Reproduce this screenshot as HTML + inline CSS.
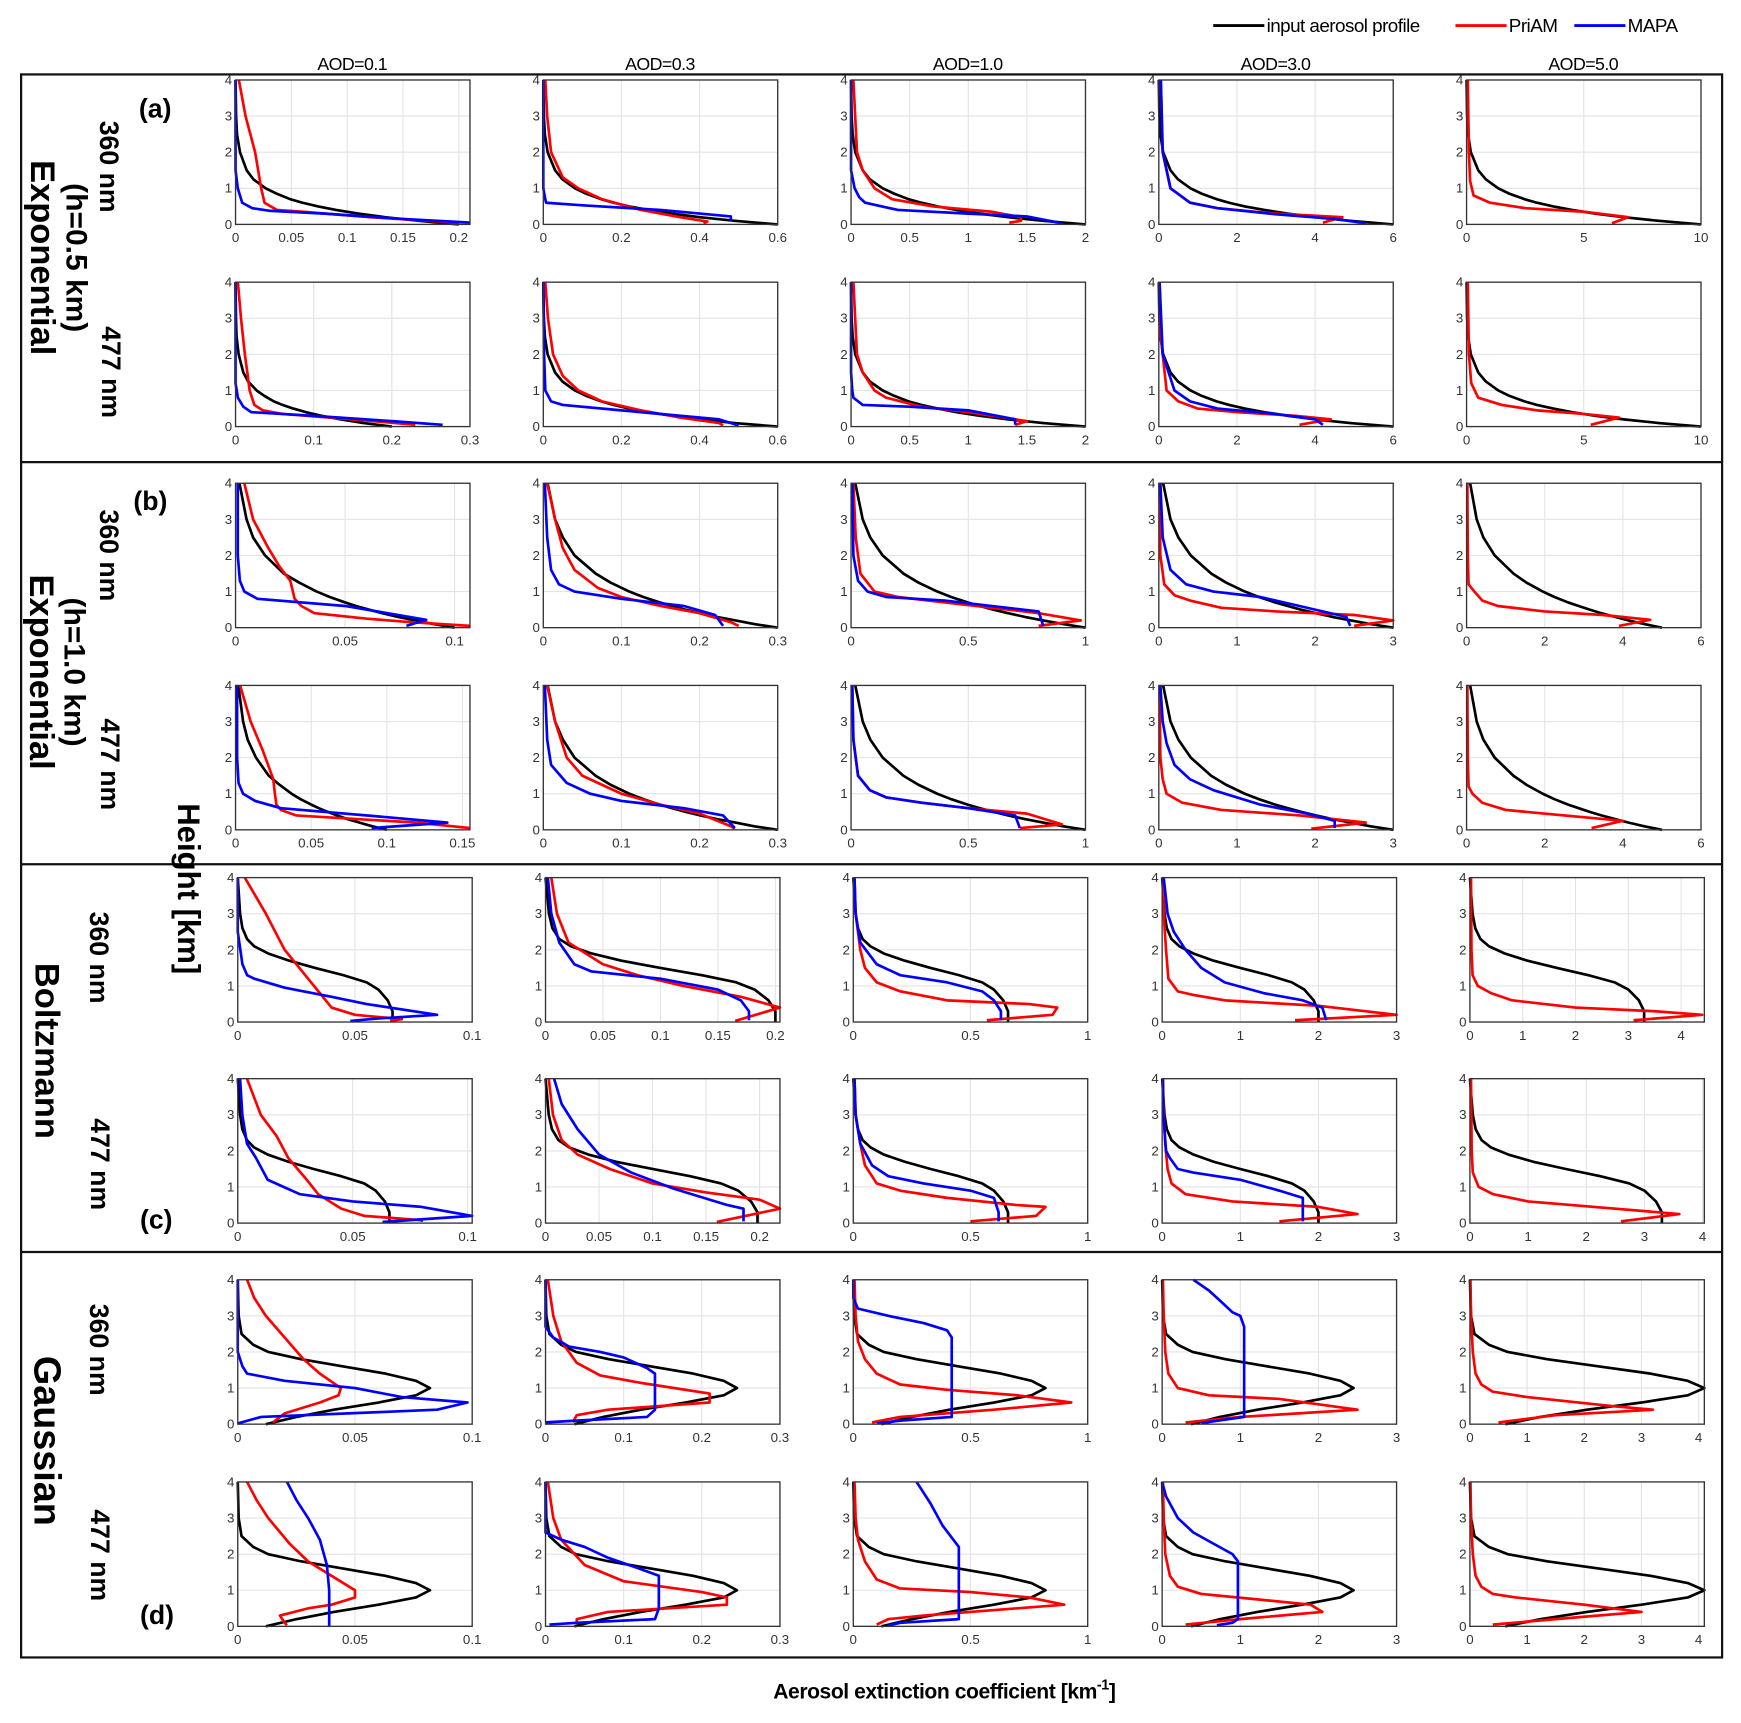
<!DOCTYPE html>
<html><head><meta charset="utf-8"><title>Aerosol profiles</title>
<style>
html,body{margin:0;padding:0;background:#fff;}
svg{display:block;}
text{font-family:"Liberation Sans",Arial,sans-serif;}
.tk{font-size:12px;fill:#333;}
</style></head>
<body>
<svg id="fig" width="1741" height="1723" viewBox="0 0 1567 1551" preserveAspectRatio="none" xmlns="http://www.w3.org/2000/svg">
  <g>
    <line x1="1092" y1="23" x2="1138" y2="23" stroke="#000" stroke-width="2.5"/>
    <text x="1140" y="29" font-size="17" letter-spacing="-0.5">input aerosol profile</text>
    <line x1="1310" y1="23" x2="1356" y2="23" stroke="#f00" stroke-width="2.5"/>
    <text x="1358" y="29" font-size="17" letter-spacing="-0.5">PriAM</text>
    <line x1="1417" y1="23" x2="1463" y2="23" stroke="#00f" stroke-width="2.5"/>
    <text x="1465" y="29" font-size="17" letter-spacing="-0.5">MAPA</text>
  </g>
  <g font-size="16" text-anchor="middle" letter-spacing="-0.5">
    <text x="317" y="63">AOD=0.1</text><text x="594" y="63">AOD=0.3</text><text x="871" y="63">AOD=1.0</text><text x="1148" y="63">AOD=3.0</text><text x="1425" y="63">AOD=5.0</text>
  </g>
  <g fill="none" stroke="#111" stroke-width="2">
    <rect x="19" y="67" width="1531" height="1425"/>
    <line x1="19" y1="416" x2="1550" y2="416"/>
    <line x1="19" y1="778" x2="1550" y2="778"/>
    <line x1="19" y1="1127" x2="1550" y2="1127"/>
  </g>
  <g font-weight="bold">
    <text x="125" y="106" font-size="24">(a)</text>
    <text x="120" y="459" font-size="24">(b)</text>
    <text x="126" y="1106" font-size="24">(c)</text>
    <text x="126" y="1462" font-size="24">(d)</text>
    <text transform="translate(28,232) rotate(90)" text-anchor="middle" font-size="31">Exponential</text>
    <text transform="translate(60,232) rotate(90)" text-anchor="middle" font-size="27" font-family="Liberation Serif, serif">(h=0.5 km)</text>
    <text transform="translate(90,150) rotate(90)" text-anchor="middle" font-size="24">360 nm</text>
    <text transform="translate(92,335) rotate(90)" text-anchor="middle" font-size="24">477 nm</text>
    <text transform="translate(27,605) rotate(90)" text-anchor="middle" font-size="31">Exponential</text>
    <text transform="translate(58,605) rotate(90)" text-anchor="middle" font-size="27" font-family="Liberation Serif, serif">(h=1.0 km)</text>
    <text transform="translate(90,500) rotate(90)" text-anchor="middle" font-size="24">360 nm</text>
    <text transform="translate(91,688) rotate(90)" text-anchor="middle" font-size="24">477 nm</text>
    <text transform="translate(32,946) rotate(90)" text-anchor="middle" font-size="31">Boltzmann</text>
    <text transform="translate(81,862) rotate(90)" text-anchor="middle" font-size="24">360 nm</text>
    <text transform="translate(82,1048) rotate(90)" text-anchor="middle" font-size="24">477 nm</text>
    <text transform="translate(31,1297) rotate(90)" text-anchor="middle" font-size="34">Gaussian</text>
    <text transform="translate(81,1215) rotate(90)" text-anchor="middle" font-size="24">360 nm</text>
    <text transform="translate(82,1400) rotate(90)" text-anchor="middle" font-size="24">477 nm</text>
    <text transform="translate(160,800) rotate(90)" text-anchor="middle" font-size="28">Height [km]</text>
    <text x="850" y="1529" text-anchor="middle" font-size="19" letter-spacing="-0.4">Aerosol extinction coefficient [km<tspan dy="-8" font-size="13">-1</tspan><tspan dy="8">]</tspan></text>
  </g>
  <g id="plots"></g>
</svg>
<script>
// ---- data ----
const expHeights = [0,0.1,0.2,0.3,0.4,0.5,0.6,0.7,0.85,1,1.25,1.5,2,2.5,3,4];
const boltzHeights = [0,0.3,0.6,0.9,1.1,1.3,1.5,1.7,1.9,2.1,2.3,2.6,3,4];
const gaussHeights = [0,0.2,0.4,0.6,0.8,1,1.2,1.4,1.6,1.8,2,2.2,2.5,3,4];

const row1Input = [
 [0.2,0.164,0.134,0.11,0.09,0.074,0.06,0.049,0.037,0.027,0.016,0.01,0.004,0.0013,0.0005,0],
 [0.6,0.49,0.40,0.33,0.27,0.22,0.18,0.148,0.11,0.081,0.049,0.03,0.011,0.004,0.0015,0],
 [2,1.64,1.34,1.1,0.9,0.74,0.6,0.49,0.37,0.27,0.16,0.1,0.036,0.013,0.005,0],
 [6,4.9,4.0,3.3,2.7,2.2,1.8,1.48,1.1,0.81,0.49,0.3,0.11,0.04,0.015,0],
 [10,8.2,6.7,5.5,4.5,3.7,3.0,2.47,1.83,1.35,0.82,0.5,0.18,0.067,0.025,0]];
const row2Input = [
 [0.2,0.164,0.134,0.11,0.09,0.074,0.06,0.049,0.037,0.027,0.016,0.01,0.004,0.0013,0.0005,0],
 [0.6,0.49,0.40,0.33,0.27,0.22,0.18,0.148,0.11,0.081,0.049,0.03,0.011,0.004,0.0015,0],
 [2,1.64,1.34,1.1,0.9,0.74,0.6,0.49,0.37,0.27,0.16,0.1,0.036,0.013,0.005,0],
 [6,4.9,4.0,3.3,2.7,2.2,1.8,1.48,1.1,0.81,0.49,0.3,0.11,0.04,0.015,0],
 [10,8.2,6.7,5.5,4.5,3.7,3.0,2.47,1.83,1.35,0.82,0.5,0.18,0.067,0.025,0]];
const row3Input = [
 [0.1,0.0905,0.082,0.074,0.067,0.061,0.055,0.05,0.043,0.037,0.029,0.022,0.0135,0.008,0.005,0.0018],
 [0.3,0.27,0.246,0.222,0.201,0.182,0.165,0.149,0.128,0.11,0.086,0.067,0.04,0.025,0.015,0.0055],
 [1,0.905,0.819,0.741,0.67,0.607,0.549,0.497,0.427,0.368,0.287,0.223,0.135,0.082,0.05,0.018],
 [3,2.71,2.46,2.22,2.01,1.82,1.65,1.49,1.28,1.1,0.86,0.67,0.41,0.25,0.15,0.055],
 [5,4.55,4.15,3.8,3.45,3.15,2.87,2.6,2.25,1.95,1.53,1.2,0.72,0.43,0.26,0.09]];
const row4Input = [
 [0.1,0.0905,0.082,0.074,0.067,0.061,0.055,0.05,0.043,0.037,0.029,0.022,0.0135,0.008,0.005,0.0018],
 [0.3,0.27,0.246,0.222,0.201,0.182,0.165,0.149,0.128,0.11,0.086,0.067,0.04,0.025,0.015,0.0055],
 [1,0.905,0.819,0.741,0.67,0.607,0.549,0.497,0.427,0.368,0.287,0.223,0.135,0.082,0.05,0.018],
 [3,2.71,2.46,2.22,2.01,1.82,1.65,1.49,1.28,1.1,0.86,0.67,0.41,0.25,0.15,0.055],
 [5,4.55,4.15,3.8,3.45,3.15,2.87,2.6,2.25,1.95,1.53,1.2,0.72,0.43,0.26,0.09]];
const row5Input = [
 [0.066,0.066,0.064,0.06,0.055,0.045,0.033,0.022,0.013,0.007,0.004,0.002,0.001,0],
 [0.2,0.2,0.194,0.182,0.166,0.136,0.1,0.066,0.04,0.022,0.012,0.006,0.003,0],
 [0.66,0.66,0.64,0.6,0.55,0.45,0.33,0.22,0.13,0.073,0.04,0.02,0.01,0],
 [2,2,1.94,1.82,1.66,1.36,1,0.66,0.4,0.22,0.12,0.06,0.03,0],
 [3.3,3.3,3.2,3.0,2.74,2.24,1.65,1.09,0.66,0.36,0.2,0.1,0.05,0]];
const row6Input = [
 [0.066,0.066,0.064,0.06,0.055,0.045,0.033,0.022,0.013,0.007,0.004,0.002,0.001,0],
 [0.198,0.198,0.192,0.18,0.164,0.135,0.1,0.066,0.04,0.022,0.012,0.006,0.003,0],
 [0.66,0.66,0.64,0.6,0.55,0.45,0.33,0.22,0.13,0.073,0.04,0.02,0.01,0],
 [2,2,1.94,1.82,1.66,1.36,1,0.66,0.4,0.22,0.12,0.06,0.03,0],
 [3.3,3.3,3.2,3.0,2.74,2.24,1.65,1.09,0.66,0.36,0.2,0.1,0.05,0]];
const row7Input = [
 [0.012,0.025,0.041,0.06,0.076,0.082,0.076,0.063,0.045,0.027,0.013,0.0066,0.0016,0.0004,0],
 [0.037,0.074,0.122,0.179,0.228,0.245,0.228,0.189,0.135,0.081,0.039,0.02,0.005,0.001,0],
 [0.12,0.25,0.41,0.6,0.76,0.82,0.76,0.63,0.45,0.27,0.13,0.066,0.016,0.004,0],
 [0.37,0.74,1.22,1.79,2.28,2.45,2.28,1.89,1.35,0.81,0.39,0.2,0.05,0.012,0],
 [0.62,1.23,2.05,3.0,3.81,4.1,3.81,3.16,2.26,1.35,0.66,0.33,0.08,0.02,0]];
const row8Input = [
 [0.012,0.025,0.041,0.06,0.076,0.082,0.076,0.063,0.045,0.027,0.013,0.0066,0.0016,0.0004,0],
 [0.037,0.074,0.122,0.179,0.228,0.245,0.228,0.189,0.135,0.081,0.039,0.02,0.005,0.001,0],
 [0.12,0.25,0.41,0.6,0.76,0.82,0.76,0.63,0.45,0.27,0.13,0.066,0.016,0.004,0],
 [0.37,0.74,1.22,1.79,2.28,2.45,2.28,1.89,1.35,0.81,0.39,0.2,0.05,0.012,0],
 [0.62,1.23,2.05,3.0,3.81,4.1,3.81,3.16,2.26,1.35,0.66,0.33,0.08,0.02,0]];

// retrievals: [x, height] pairs, top to bottom
const row1Priam = [
 [[0.003,4],[0.009,3],[0.0175,2],[0.023,1],[0.026,0.6],[0.037,0.4],[0.06,0.35],[0.12,0.2],[0.2,0.05]],
 [[0.005,4],[0.01,3],[0.02,2],[0.05,1.3],[0.09,1],[0.15,0.7],[0.25,0.4],[0.35,0.2],[0.42,0.08],[0.41,0.03]],
 [[0.02,4],[0.05,2],[0.1,1.5],[0.2,1],[0.35,0.7],[0.7,0.5],[1.2,0.35],[1.45,0.2],[1.45,0.1],[1.35,0.05]],
 [[0.05,4],[0.1,2],[0.3,1],[0.8,0.6],[1.5,0.45],[3,0.3],[4.7,0.2],[4.2,0.05]],
 [[0.05,4],[0.1,2],[0.15,1.2],[0.3,0.8],[1.0,0.6],[2.5,0.45],[5,0.35],[6.9,0.2],[6.2,0.03]]];
const row1Mapa = [
 [[0,4],[0,1.5],[0.002,1],[0.004,0.8],[0.006,0.6],[0.015,0.45],[0.03,0.38],[0.08,0.3],[0.15,0.15],[0.21,0.05]],
 [[0,4],[0,1],[0.005,0.7],[0.007,0.6],[0.1,0.53],[0.3,0.4],[0.48,0.22],[0.48,0.08]],
 [[0,4],[0,1.5],[0.03,1],[0.07,0.75],[0.12,0.6],[0.4,0.4],[1.0,0.3],[1.5,0.22],[1.8,0.03]],
 [[0.05,4],[0.1,2],[0.3,1],[0.8,0.6],[1.5,0.45],[3,0.28],[4.5,0.15],[5.3,0.03]],
 null];
const row2Priam = [
 [[0.003,4],[0.007,3],[0.012,2],[0.015,1.5],[0.018,1],[0.024,0.6],[0.035,0.45],[0.06,0.35],[0.15,0.2],[0.23,0.05]],
 [[0.005,4],[0.012,3],[0.025,2],[0.05,1.4],[0.09,1],[0.15,0.7],[0.25,0.45],[0.35,0.25],[0.45,0.1],[0.46,0.03]],
 [[0.02,4],[0.05,2],[0.1,1.5],[0.2,1],[0.3,0.8],[0.6,0.55],[1.0,0.4],[1.4,0.2],[1.5,0.15],[1.4,0.05]],
 [[0.02,4],[0.05,2.5],[0.1,2],[0.2,1],[0.5,0.7],[1.0,0.5],[2,0.4],[3.5,0.3],[4.4,0.2],[3.6,0.05]],
 [[0.05,4],[0.1,2],[0.2,1.2],[0.5,0.8],[1.5,0.6],[3,0.45],[5,0.35],[6.5,0.25],[5.3,0.05]]];
const row2Mapa = [
 [[0,4],[0,1.2],[0.003,0.8],[0.01,0.55],[0.02,0.4],[0.1,0.3],[0.2,0.15],[0.265,0.05]],
 [[0,4],[0.002,2],[0.005,1],[0.02,0.7],[0.05,0.6],[0.2,0.45],[0.45,0.2],[0.5,0.03]],
 [[0,4],[0,1.5],[0.01,1],[0.02,0.8],[0.1,0.6],[0.5,0.55],[1.0,0.45],[1.4,0.2],[1.4,0.05]],
 [[0.02,4],[0.1,2],[0.4,1],[0.8,0.7],[1.5,0.5],[3,0.35],[4.0,0.2],[4.2,0.05]],
 null];
const row3Priam = [
 [[0.004,4],[0.008,3],[0.015,2.2],[0.02,1.7],[0.025,1.3],[0.027,0.8],[0.03,0.6],[0.036,0.4],[0.06,0.25],[0.08,0.15],[0.107,0.05]],
 [[0.005,4],[0.015,3],[0.025,2.2],[0.04,1.6],[0.07,1.1],[0.1,0.85],[0.15,0.6],[0.2,0.4],[0.24,0.15],[0.25,0.05]],
 [[0.01,4],[0.02,2.5],[0.04,1.5],[0.1,1.0],[0.2,0.85],[0.4,0.7],[0.6,0.55],[0.8,0.4],[0.98,0.2],[0.8,0.05]],
 [[0.01,4],[0.02,2],[0.07,1.2],[0.2,0.9],[0.4,0.75],[0.8,0.55],[1.5,0.45],[2.5,0.35],[3.0,0.2],[2.5,0.05]],
 [[0.02,4],[0.03,2],[0.05,1.2],[0.2,1.0],[0.4,0.75],[0.8,0.6],[2,0.45],[3.5,0.35],[4.7,0.22],[3.9,0.05]]];
const row3Mapa = [
 [[0.001,4],[0.001,2],[0.002,1.3],[0.004,1.0],[0.01,0.8],[0.05,0.6],[0.087,0.22],[0.078,0.05]],
 [[0.002,4],[0.005,2.5],[0.01,1.6],[0.02,1.2],[0.04,1.0],[0.1,0.8],[0.18,0.6],[0.22,0.35],[0.23,0.05]],
 [[0.005,4],[0.01,2],[0.03,1.3],[0.07,1],[0.15,0.85],[0.4,0.75],[0.8,0.45],[0.82,0.05]],
 [[0.02,4],[0.05,2.5],[0.15,1.6],[0.35,1.2],[0.7,1.0],[1.3,0.85],[1.8,0.6],[2.4,0.3],[2.45,0.05]],
 null];
const row4Priam = [
 [[0.003,4],[0.01,3],[0.018,2.2],[0.025,1.4],[0.026,1],[0.027,0.7],[0.03,0.55],[0.04,0.4],[0.08,0.3],[0.12,0.2],[0.155,0.05]],
 [[0.005,4],[0.015,3],[0.03,2],[0.05,1.5],[0.1,1],[0.15,0.7],[0.2,0.45],[0.24,0.1],[0.245,0.03]],
 [[0.005,4],[0.01,2.5],[0.03,1.5],[0.08,1.1],[0.15,0.9],[0.3,0.75],[0.5,0.6],[0.75,0.45],[0.9,0.15],[0.72,0.05]],
 [[0.01,4],[0.02,2],[0.05,1.4],[0.1,1.0],[0.3,0.75],[0.8,0.55],[1.8,0.4],[2.65,0.2],[1.95,0.03]],
 [[0.02,4],[0.03,2],[0.05,1.2],[0.15,1.0],[0.4,0.75],[1.0,0.55],[2.5,0.4],[4.0,0.25],[3.2,0.05]]];
const row4Mapa = [
 [[0.001,4],[0.001,2],[0.002,1.3],[0.005,1],[0.013,0.8],[0.03,0.6],[0.1,0.35],[0.14,0.2],[0.09,0.05]],
 [[0.002,4],[0.005,2.5],[0.01,1.8],[0.03,1.3],[0.06,1.0],[0.1,0.8],[0.18,0.6],[0.23,0.4],[0.245,0.05]],
 [[0.005,4],[0.01,2.5],[0.03,1.5],[0.08,1.1],[0.15,0.9],[0.3,0.75],[0.5,0.6],[0.7,0.4],[0.72,0.05]],
 [[0.02,4],[0.05,3],[0.1,2.4],[0.2,1.8],[0.4,1.4],[0.7,1.1],[1.3,0.7],[1.9,0.45],[2.25,0.25],[2.25,0.05]],
 null];
const row5Priam = [
 [[0.003,4],[0.012,3],[0.02,2],[0.025,1.6],[0.03,1.2],[0.035,0.8],[0.04,0.4],[0.05,0.2],[0.07,0.08],[0.065,0.03]],
 [[0.005,4],[0.01,3],[0.02,2.2],[0.05,1.6],[0.08,1.3],[0.12,1.0],[0.17,0.7],[0.204,0.4],[0.165,0.03]],
 [[0.005,4],[0.01,3],[0.03,2],[0.05,1.5],[0.1,1.1],[0.2,0.85],[0.4,0.6],[0.75,0.5],[0.87,0.4],[0.85,0.2],[0.57,0.05]],
 [[0.01,4],[0.02,3],[0.05,2],[0.08,1.2],[0.2,0.85],[0.4,0.75],[0.8,0.6],[2,0.45],[3.0,0.2],[1.7,0.05]],
 [[0.02,4],[0.03,2],[0.05,1.3],[0.15,1.0],[0.4,0.8],[0.8,0.6],[2.0,0.4],[3.5,0.3],[4.4,0.2],[3.1,0.05]]];
const row5Mapa = [
 [[0,4],[0,2.5],[0.002,1.6],[0.004,1.3],[0.007,1.2],[0.02,0.95],[0.04,0.7],[0.055,0.5],[0.085,0.2],[0.06,0.1],[0.048,0.03]],
 [[0.002,4],[0.005,3],[0.012,2.2],[0.025,1.6],[0.04,1.4],[0.1,1.2],[0.15,0.9],[0.17,0.6],[0.177,0.3],[0.177,0.05]],
 [[0.005,4],[0.01,3],[0.03,2.2],[0.1,1.6],[0.2,1.3],[0.4,1.1],[0.55,0.85],[0.6,0.6],[0.63,0.3],[0.63,0.05]],
 [[0.02,4],[0.07,3],[0.15,2.5],[0.3,2],[0.5,1.5],[0.8,1.1],[1.3,0.8],[1.8,0.6],[2.05,0.4],[2.1,0.05]],
 null];
const row6Priam = [
 [[0.004,4],[0.01,3],[0.017,2.4],[0.022,1.8],[0.03,1.2],[0.035,0.8],[0.045,0.4],[0.055,0.2],[0.08,0.08],[0.08,0.03]],
 [[0.003,4],[0.007,3],[0.015,2.3],[0.03,1.9],[0.06,1.5],[0.1,1.1],[0.15,0.85],[0.2,0.65],[0.219,0.4],[0.16,0.03]],
 [[0.005,4],[0.01,3],[0.03,2.2],[0.05,1.6],[0.1,1.1],[0.2,0.9],[0.4,0.7],[0.7,0.5],[0.82,0.45],[0.78,0.2],[0.5,0.05]],
 [[0.01,4],[0.02,3],[0.04,2.2],[0.07,1.5],[0.12,1.1],[0.3,0.8],[0.9,0.6],[2.0,0.45],[2.5,0.25],[1.5,0.05]],
 [[0.02,4],[0.03,2],[0.05,1.4],[0.15,1.0],[0.4,0.8],[1.0,0.6],[2.5,0.4],[3.6,0.25],[2.6,0.05]]];
const row6Mapa = [
 [[0.001,4],[0.002,3],[0.004,2.2],[0.008,1.8],[0.013,1.2],[0.02,1.0],[0.027,0.8],[0.05,0.6],[0.08,0.45],[0.102,0.2],[0.063,0.03]],
 [[0.008,4],[0.015,3.3],[0.03,2.6],[0.05,1.9],[0.08,1.4],[0.12,0.95],[0.17,0.5],[0.185,0.4],[0.185,0.05]],
 [[0.005,4],[0.01,3],[0.03,2.2],[0.08,1.6],[0.15,1.3],[0.3,1.1],[0.5,0.9],[0.6,0.7],[0.62,0.3],[0.62,0.05]],
 [[0.01,4],[0.015,3],[0.05,2],[0.1,1.8],[0.2,1.5],[0.4,1.4],[1.0,1.2],[1.5,0.9],[1.8,0.7],[1.8,0.05]],
 null];
const row7Priam = [
 [[0.004,4],[0.007,3.5],[0.012,3],[0.02,2.4],[0.028,1.8],[0.035,1.4],[0.044,1.0],[0.043,0.8],[0.035,0.6],[0.02,0.3],[0.016,0.1],[0.015,0.05]],
 [[0.003,4],[0.01,3],[0.02,2.3],[0.04,1.7],[0.07,1.35],[0.12,1.15],[0.21,0.85],[0.21,0.6],[0.08,0.4],[0.04,0.25],[0.035,0.05]],
 [[0.005,4],[0.01,3],[0.02,2.3],[0.05,1.8],[0.1,1.4],[0.2,1.1],[0.4,0.95],[0.7,0.8],[0.93,0.6],[0.6,0.4],[0.2,0.2],[0.08,0.05]],
 [[0.01,4],[0.02,3],[0.04,2],[0.08,1.4],[0.2,1.0],[0.6,0.8],[1.5,0.7],[2.5,0.4],[1.0,0.2],[0.3,0.05]],
 [[0.01,4],[0.02,3],[0.05,2],[0.1,1.4],[0.2,1.1],[0.4,0.9],[1.0,0.75],[2.5,0.5],[3.2,0.4],[1.5,0.25],[0.5,0.05]]];
const row7Mapa = [
 [[0,4],[0,2],[0.002,1.6],[0.004,1.4],[0.02,1.2],[0.05,1.0],[0.07,0.75],[0.098,0.6],[0.085,0.4],[0.01,0.2],[0,0.02]],
 [[0,4],[0,2.7],[0.01,2.4],[0.03,2.15],[0.07,2.0],[0.1,1.85],[0.13,1.55],[0.14,1.4],[0.14,0.4],[0.13,0.2],[0.04,0.1],[0,0.05]],
 [[0,4],[0,3.5],[0.02,3.2],[0.15,3.0],[0.3,2.8],[0.4,2.6],[0.42,2.4],[0.42,0.2],[0.2,0.1],[0.1,0.02]],
 [[0.4,4],[0.6,3.7],[0.75,3.4],[0.9,3.1],[1.0,3.0],[1.05,2.7],[1.05,0.2],[0.5,0.03]],
 null];
const row8Priam = [
 [[0.004,4],[0.008,3.5],[0.013,3],[0.022,2.3],[0.03,1.8],[0.04,1.4],[0.05,1.0],[0.05,0.8],[0.04,0.6],[0.03,0.5],[0.018,0.3],[0.02,0.1],[0.021,0.03]],
 [[0.003,4],[0.01,3],[0.02,2.4],[0.05,1.7],[0.1,1.25],[0.2,0.95],[0.232,0.8],[0.232,0.6],[0.08,0.4],[0.04,0.2],[0.04,0.1]],
 [[0.005,4],[0.01,3],[0.02,2.4],[0.05,1.8],[0.1,1.3],[0.2,1.05],[0.5,0.95],[0.75,0.8],[0.9,0.6],[0.3,0.3],[0.15,0.2],[0.1,0.05]],
 [[0.01,4],[0.02,3],[0.04,2],[0.1,1.4],[0.2,1.1],[0.5,0.9],[1.2,0.75],[1.9,0.6],[2.05,0.4],[1.0,0.2],[0.3,0.05]],
 [[0.01,4],[0.02,3],[0.05,2],[0.1,1.4],[0.2,1.1],[0.4,0.9],[0.8,0.8],[2,0.6],[3.0,0.4],[1.5,0.2],[0.4,0.05]]];
const row8Mapa = [
 [[0.021,4],[0.025,3.5],[0.03,3.0],[0.035,2.4],[0.038,1.7],[0.039,1.0],[0.039,0]],
 [[0,4],[0,2.6],[0.02,2.4],[0.05,2.2],[0.08,1.9],[0.12,1.6],[0.145,1.4],[0.145,0.5],[0.14,0.2],[0.04,0.1],[0.005,0.05]],
 [[0.27,4],[0.33,3.4],[0.38,2.8],[0.45,2.2],[0.45,0.2],[0.2,0.1],[0.15,0.02]],
 [[0,4],[0.05,3.6],[0.2,3.0],[0.4,2.6],[0.65,2.3],[0.9,2.0],[0.97,1.8],[0.97,0.2],[0.9,0.1],[0.7,0.03]],
 null];

const row1Ticks = [["0","0.05","0.1","0.15","0.2"],["0","0.2","0.4","0.6"],["0","0.5","1","1.5","2"],["0","2","4","6"],["0","5","10"]];
const row2Ticks = [["0","0.1","0.2","0.3"],["0","0.2","0.4","0.6"],["0","0.5","1","1.5","2"],["0","2","4","6"],["0","5","10"]];
const row3Ticks = [["0","0.05","0.1"],["0","0.1","0.2","0.3"],["0","0.5","1"],["0","1","2","3"],["0","2","4","6"]];
const row4Ticks = [["0","0.05","0.1","0.15"],["0","0.1","0.2","0.3"],["0","0.5","1"],["0","1","2","3"],["0","2","4","6"]];
const row5Ticks = [["0","0.05","0.1"],["0","0.05","0.1","0.15","0.2"],["0","0.5","1"],["0","1","2","3"],["0","1","2","3","4"]];
const row6Ticks = [["0","0.05","0.1"],["0","0.05","0.1","0.15","0.2"],["0","0.5","1"],["0","1","2","3"],["0","1","2","3","4"]];
const row7Ticks = [["0","0.05","0.1"],["0","0.1","0.2","0.3"],["0","0.5","1"],["0","1","2","3"],["0","1","2","3","4"]];
const row8Ticks = [["0","0.05","0.1"],["0","0.1","0.2","0.3"],["0","0.5","1"],["0","1","2","3"],["0","1","2","3","4"]];
const row1XMax = [0.21,0.6,2,6,10];
const row2XMax = [0.3,0.6,2,6,10];
const row3XMax = [0.107,0.3,1,3,6];
const row4XMax = [0.155,0.3,1,3,6];
const row5XMax = [0.1,0.204,1,3,4.44];
const row6XMax = [0.102,0.219,1,3,4.03];
const row7XMax = [0.1,0.3,1,3,4.1];
const row8XMax = [0.1,0.3,1,3,4.1];
const yTicks = [0,1,2,3,4];

// ---- layout ----
const NS = "http://www.w3.org/2000/svg";
const colsAB = [212,489,766,1043,1320], colsCD = [214,491,768,1046,1323];
const rowTop = [72,254,435,617,790,971,1152,1334];
const PW = 211, PH = 130;
const rows = [
 {inp:row1Input,hs:expHeights,pr:row1Priam,mp:row1Mapa,tk:row1Ticks,xm:row1XMax},
 {inp:row2Input,hs:expHeights,pr:row2Priam,mp:row2Mapa,tk:row2Ticks,xm:row2XMax},
 {inp:row3Input,hs:expHeights,pr:row3Priam,mp:row3Mapa,tk:row3Ticks,xm:row3XMax},
 {inp:row4Input,hs:expHeights,pr:row4Priam,mp:row4Mapa,tk:row4Ticks,xm:row4XMax},
 {inp:row5Input,hs:boltzHeights,pr:row5Priam,mp:row5Mapa,tk:row5Ticks,xm:row5XMax},
 {inp:row6Input,hs:boltzHeights,pr:row6Priam,mp:row6Mapa,tk:row6Ticks,xm:row6XMax},
 {inp:row7Input,hs:gaussHeights,pr:row7Priam,mp:row7Mapa,tk:row7Ticks,xm:row7XMax},
 {inp:row8Input,hs:gaussHeights,pr:row8Priam,mp:row8Mapa,tk:row8Ticks,xm:row8XMax}];

function mk(tag, attrs, parent){const e=document.createElementNS(NS,tag);for(const k in attrs)e.setAttribute(k,attrs[k]);parent.appendChild(e);return e;}
const root = document.getElementById("plots");

rows.forEach((row, r) => {
  const cols = r < 4 ? colsAB : colsCD;
  for (let c = 0; c < 5; c++) {
    const x0 = cols[c], y0 = rowTop[r], xmax = row.xm[c];
    const sx = v => x0 + Math.min(v, xmax) / xmax * PW;
    const sy = h => y0 + PH - h / 4 * PH;
    const g = mk("g", {}, root);
    
    
    row.tk[c].forEach(t => { const v = parseFloat(t); if (v > 0 && v < xmax*0.995) mk("line",{x1:sx(v),y1:y0,x2:sx(v),y2:y0+PH,stroke:"#e3e3e3","stroke-width":1},g); });
    yTicks.forEach(h => { if (h > 0 && h < 4) mk("line",{x1:x0,y1:sy(h),x2:x0+PW,y2:sy(h),stroke:"#e3e3e3","stroke-width":1},g); });
    const draw = (pts, color, name) => {
      const d = pts.map((p,i)=>(i?"L":"M")+sx(p[0]).toFixed(1)+","+sy(p[1]).toFixed(1)).join("");
      const p = mk("path",{d:d,fill:"none",stroke:color,"stroke-width":2.4,"stroke-linejoin":"round"},g);
      
      
    };
    draw(row.inp[c].map((v,i)=>[v,row.hs[i]]), "#000", "input-profile-line");
    draw(row.pr[c], "#f00", "priam-line");
    if (row.mp[c]) draw(row.mp[c], "#00f", "mapa-line");
    const box = mk("rect",{x:x0,y:y0,width:PW,height:PH,fill:"none",stroke:"#333","stroke-width":1.2},g);
    
    
    row.tk[c].forEach(t => {
      const tx = mk("text",{x:sx(parseFloat(t)),y:y0+PH+16,"text-anchor":"middle",class:"tk"},g);
      tx.textContent = t;
      
      
    });
    yTicks.forEach(h => {
      const ty = mk("text",{x:x0-3,y:sy(h)+4,"text-anchor":"end",class:"tk"},g);
      ty.textContent = String(h);
      
      
    });
  }
});
</script>
</body></html>
